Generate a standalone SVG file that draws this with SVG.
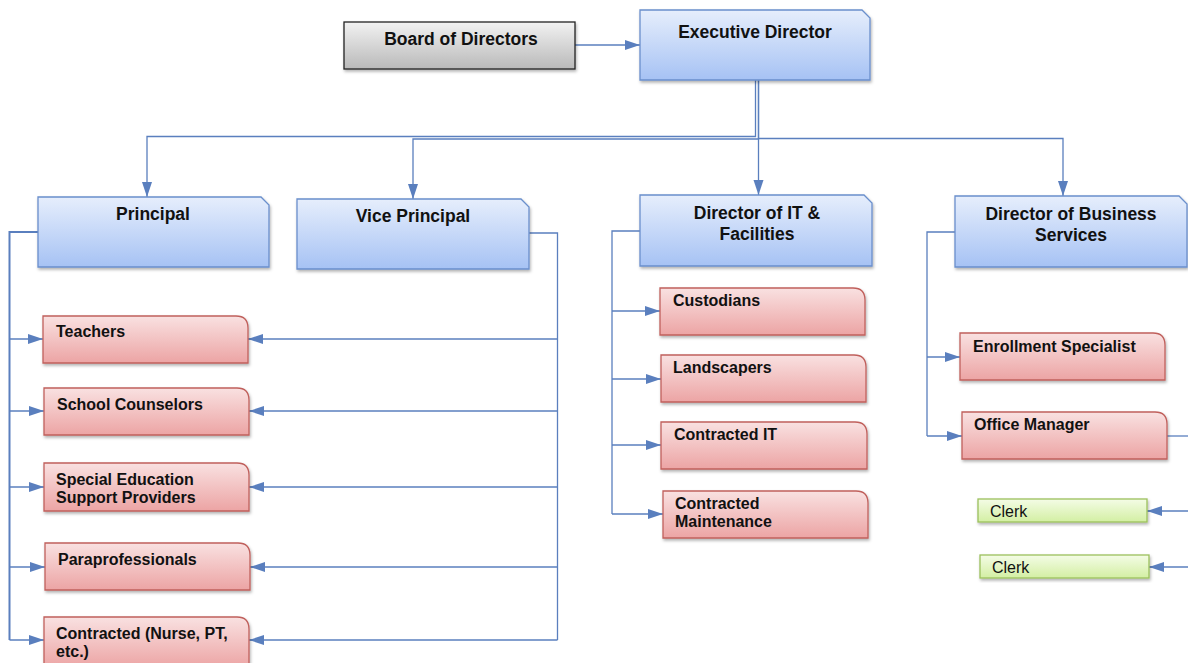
<svg xmlns="http://www.w3.org/2000/svg" width="1188" height="663" viewBox="0 0 1188 663">
<defs>
<linearGradient id="gBlue" x1="0" y1="0" x2="0" y2="1"><stop offset="0" stop-color="#e6eefc"/><stop offset="1" stop-color="#a6c2f4"/></linearGradient>
<linearGradient id="gRed" x1="0" y1="0" x2="0" y2="1"><stop offset="0" stop-color="#f9e1e1"/><stop offset="1" stop-color="#eca4a4"/></linearGradient>
<linearGradient id="gGray" x1="0" y1="0" x2="0" y2="1"><stop offset="0" stop-color="#f2f2f2"/><stop offset="1" stop-color="#b9b9b9"/></linearGradient>
<linearGradient id="gGreen" x1="0" y1="0" x2="0" y2="1"><stop offset="0" stop-color="#f4fce6"/><stop offset="1" stop-color="#d3efa3"/></linearGradient>
<filter id="sh" x="-5%" y="-10%" width="115%" height="130%"><feDropShadow dx="1" dy="2" stdDeviation="1.5" flood-color="#000" flood-opacity="0.3"/></filter>
<marker id="arr" markerUnits="userSpaceOnUse" markerWidth="16" markerHeight="12" refX="15" refY="5" orient="auto"><path d="M0,0 L15,5 L0,10 Z" fill="#5a7fbe"/></marker>
</defs>
<style>
.blue{fill:url(#gBlue);stroke:#6a8fcc;stroke-width:1.3;filter:url(#sh)}
.red{fill:url(#gRed);stroke:#c0605c;stroke-width:1.3;filter:url(#sh)}
.gray{fill:url(#gGray);stroke:#222;stroke-width:1.3;filter:url(#sh)}
.green{fill:url(#gGreen);stroke:#9cc05c;stroke-width:1.3;filter:url(#sh)}
.h{font-family:"Liberation Sans",Arial,sans-serif;font-weight:bold;font-size:17.5px;fill:#111;text-anchor:middle}
.t{font-family:"Liberation Sans",Arial,sans-serif;font-weight:bold;font-size:16px;fill:#111}
.c{font-family:"Liberation Sans",Arial,sans-serif;font-size:16px;fill:#111}
.ln{fill:none;stroke:#5a7fbe;stroke-width:1.3}
</style>
<g id="connectors">
<path class="ln" d="M575,45 H640" marker-end="url(#arr)"/>
<path class="ln" d="M755.5,80 V136.5 H147 V197" marker-end="url(#arr)"/>
<path class="ln" d="M758.5,80 V139 H413 V199" marker-end="url(#arr)"/>
<path class="ln" d="M758.5,80 V195" marker-end="url(#arr)"/>
<path class="ln" d="M758.5,138.5 H1063 V196" marker-end="url(#arr)"/>
<path class="ln" d="M38,232 H9.5 V640" style="stroke-width:2"/>
<path class="ln" d="M9.5,339 H43" marker-end="url(#arr)"/>
<path class="ln" d="M9.5,411 H44" marker-end="url(#arr)"/>
<path class="ln" d="M9.5,487 H44" marker-end="url(#arr)"/>
<path class="ln" d="M9.5,567 H45" marker-end="url(#arr)"/>
<path class="ln" d="M9.5,640 H44" marker-end="url(#arr)"/>
<path class="ln" d="M529,233 H557.5 V640"/>
<path class="ln" d="M557.5,339 H248" marker-end="url(#arr)"/>
<path class="ln" d="M557.5,411 H249" marker-end="url(#arr)"/>
<path class="ln" d="M557.5,487 H249" marker-end="url(#arr)"/>
<path class="ln" d="M557.5,567 H250" marker-end="url(#arr)"/>
<path class="ln" d="M557.5,640 H249" marker-end="url(#arr)"/>
<path class="ln" d="M640,231 H612 V514"/>
<path class="ln" d="M612,311 H660" marker-end="url(#arr)"/>
<path class="ln" d="M612,379 H661" marker-end="url(#arr)"/>
<path class="ln" d="M612,445 H661" marker-end="url(#arr)"/>
<path class="ln" d="M612,514 H663" marker-end="url(#arr)"/>
<path class="ln" d="M955,232 H927 V436"/>
<path class="ln" d="M927,357 H960" marker-end="url(#arr)"/>
<path class="ln" d="M927,436 H962" marker-end="url(#arr)"/>
<path class="ln" d="M1167,436 H1188"/>
<path class="ln" d="M1188,511 H1147" marker-end="url(#arr)"/>
<path class="ln" d="M1188,567 H1149" marker-end="url(#arr)"/>
</g>
<g id="board"><rect class="gray" x="344" y="22" width="231" height="47"/><text class="h" x="461" y="45">Board of Directors</text></g>
<g id="exec"><path class="blue" d="M640,10 H862 L870,18 V80 H640 Z"/><text class="h" x="755" y="38">Executive Director</text></g>
<g id="principal"><path class="blue" d="M38,197 H261 L269,205 V267 H38 Z"/><text class="h" x="153" y="220">Principal</text></g>
<g id="vice"><path class="blue" d="M297,199 H521 L529,207 V269 H297 Z"/><text class="h" x="413" y="222">Vice Principal</text></g>
<g id="dirit"><path class="blue" d="M640,195 H864 L872,203 V266 H640 Z"/><text class="h" x="757" y="219">Director of IT &amp;</text><text class="h" x="757" y="240">Facilities</text></g>
<g id="dirbus"><path class="blue" d="M955,196 H1179 L1187,204 V267 H955 Z"/><text class="h" x="1071" y="220">Director of Business</text><text class="h" x="1071" y="241">Services</text></g>
<g id="teachers"><path class="red" d="M43,316 H236 Q248,316 248,328 V363 H43 Z"/><text class="t" x="56" y="337">Teachers</text></g>
<g id="counselors"><path class="red" d="M44,388 H237 Q249,388 249,400 V435 H44 Z"/><text class="t" x="57" y="410">School Counselors</text></g>
<g id="specialed"><path class="red" d="M44,463 H237 Q249,463 249,475 V511 H44 Z"/><text class="t" x="56" y="485">Special Education</text><text class="t" x="56" y="503">Support Providers</text></g>
<g id="para"><path class="red" d="M45,543 H238 Q250,543 250,555 V590 H45 Z"/><text class="t" x="58" y="565">Paraprofessionals</text></g>
<g id="contracted"><path class="red" d="M44,617 H237 Q249,617 249,629 V668 H44 Z"/><text class="t" x="56" y="639">Contracted (Nurse, PT,</text><text class="t" x="56" y="657">etc.)</text></g>
<g id="custodians"><path class="red" d="M660,288 H853 Q865,288 865,300 V335 H660 Z"/><text class="t" x="673" y="306">Custodians</text></g>
<g id="landscapers"><path class="red" d="M661,355 H854 Q866,355 866,367 V402 H661 Z"/><text class="t" x="673" y="373">Landscapers</text></g>
<g id="contractedit"><path class="red" d="M661,422 H855 Q867,422 867,434 V469 H661 Z"/><text class="t" x="674" y="440">Contracted IT</text></g>
<g id="maint"><path class="red" d="M663,491 H856 Q868,491 868,503 V538 H663 Z"/><text class="t" x="675" y="509">Contracted</text><text class="t" x="675" y="527">Maintenance</text></g>
<g id="enroll"><path class="red" d="M960,333 H1153 Q1165,333 1165,345 V380 H960 Z"/><text class="t" x="973" y="352">Enrollment Specialist</text></g>
<g id="office"><path class="red" d="M962,412 H1155 Q1167,412 1167,424 V459 H962 Z"/><text class="t" x="974" y="430">Office Manager</text></g>
<g id="clerk1"><rect class="green" x="978" y="499" width="169" height="23"/><text class="c" x="990" y="517">Clerk</text></g>
<g id="clerk2"><rect class="green" x="980" y="555" width="169" height="23"/><text class="c" x="992" y="573">Clerk</text></g>
</svg>
